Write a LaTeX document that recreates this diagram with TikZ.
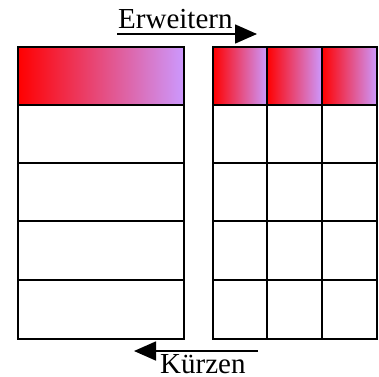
\documentclass[tikz,border=0pt]{standalone}
\usepackage{fontspec}
\setmainfont{Liberation Serif}
\usetikzlibrary{arrows.meta}
\definecolor{lav}{RGB}{204,153,255}
\definecolor{hred}{RGB}{255,0,0}
\begin{document}
\begin{tikzpicture}[x=1pt,y=-1pt,
  gridline/.style={line width=2pt,black},
  hdr/.style={left color=hred,right color=lav},
  lbl/.style={font=\fontsize{29}{31}\selectfont,inner sep=0pt,text depth=0pt},
  arr/.style={line width=1.6pt,-{Triangle[length=22pt,width=19pt]}}]
\useasboundingbox (0,0) rectangle (379,376);
% left table
\shade[hdr] (18,47) rectangle (184,105);
\foreach \y in {105,163,221,280} \draw[gridline] (18,\y) -- (184,\y);
\draw[gridline] (18,47) rectangle (184,339);
% right table
\foreach \a/\b in {213/267,267/322,322/377} \shade[hdr] (\a,47) rectangle (\b,105);
\foreach \y in {105,163,221,280} \draw[gridline] (213,\y) -- (377,\y);
\foreach \x in {267,322} \draw[gridline] (\x,47) -- (\x,339);
\draw[gridline] (213,47) rectangle (377,339);
% labels
\node[lbl,anchor=base west] (erw) at (118,28) {Erweitern};
\node[lbl,anchor=base west] (kur) at (160,373) {Kürzen};
\coordinate (e1) at (117,34);
\coordinate (e2) at (257,34);
\coordinate (k1) at (258,351);
\coordinate (k2) at (134,351);
\draw[arr] (e1) -- (e2);
\draw[arr] (k1) -- (k2);
\end{tikzpicture}
\end{document}
